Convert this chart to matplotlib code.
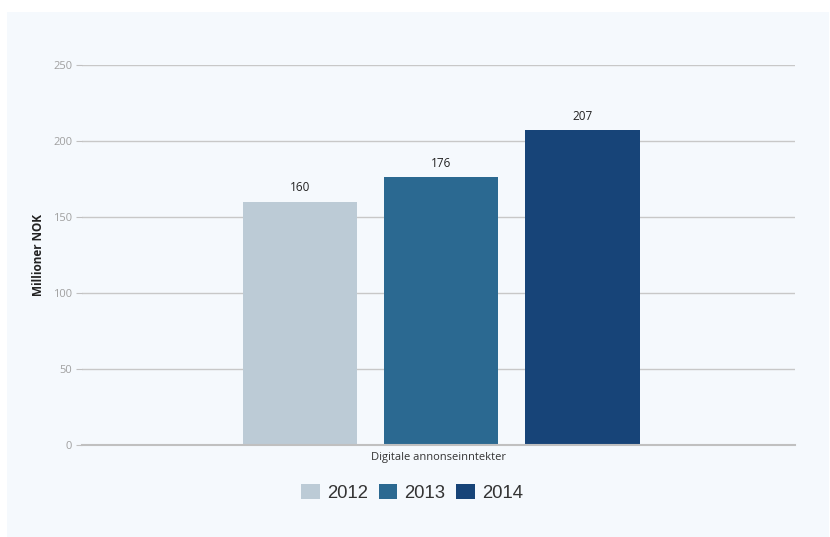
import matplotlib.pyplot as plt
from matplotlib.patches import Rectangle

years = ["2012", "2013", "2014"]
values = [160, 176, 207]
category = "Digitale annonseinntekter"
colors = ["#bccbd6", "#2b6991", "#174478"]
yticks = [0, 50, 100, 150, 200, 250]

plt.rcParams['font.family'] = ['Open Sans', 'DejaVu Sans']

fig = plt.figure(figsize=(8.3, 5.37), dpi=100)
fig.patch.set_facecolor("white")
fig.patches.append(Rectangle((7 / 830, 0), 822 / 830, 525 / 537,
                             transform=fig.transFigure, facecolor="#f5f9fd",
                             edgecolor="none", zorder=-10))

ax = fig.add_axes([82 / 830, 1 - 445 / 537, 713 / 830, 380 / 537])
ax.set_facecolor("none")

offsets = [-0.194, 0.004, 0.202]
width = 0.16
for yr, v, c, off in zip(years, values, colors, offsets):
    ax.bar(off, v, width=width, color=c, label=yr, zorder=3)
    ax.text(off, v + 5, str(v), ha="center", va="bottom", fontsize=8.5,
            color="#222222", zorder=4)

ax.set_xlim(-0.5, 0.5)
ax.set_ylim(0, 250)
ax.set_yticks(yticks)
ax.set_yticklabels([str(t) for t in yticks], color="#a0a0a0", fontsize=8)
ax.tick_params(axis="y", length=4, color="#c0c0c0", pad=3)
ax.set_xticks([0])
ax.set_xticklabels([category], fontsize=8, color="#333333")
ax.tick_params(axis="x", length=0, pad=5)
ax.grid(axis="y", color="#c8c8c8", linewidth=1, zorder=0)
for s in ["top", "right", "left"]:
    ax.spines[s].set_visible(False)
ax.spines["bottom"].set_color("#c0c0c0")
ax.spines["bottom"].set_linewidth(1.5)
ax.spines["bottom"].set_zorder(5)

ax.set_ylabel("Millioner NOK", fontsize=8.5, fontweight="bold",
              color="#222222", labelpad=6)

handles = [Rectangle((0, 0), 1, 1, facecolor=c, edgecolor="none") for c in colors]
leg = fig.legend(handles, years, loc="center", bbox_to_anchor=(412 / 830, 1 - 493 / 537),
                 ncol=3, frameon=False, handlelength=1.0,
                 handleheight=0.9, handletextpad=0.38, columnspacing=0.6,
                 prop={'family': ['Liberation Sans', 'DejaVu Sans'], 'size': 13.3})
for t in leg.get_texts():
    t.set_color("#333333")

fig.savefig("out.png", dpi=100)
